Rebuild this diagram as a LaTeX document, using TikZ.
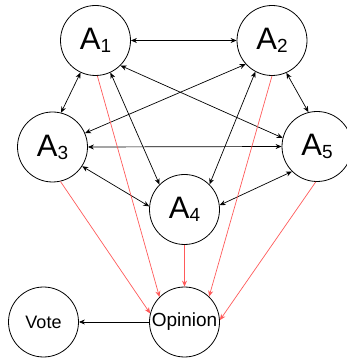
\documentclass[tikz,border=0pt]{standalone}
\usepackage{fontspec}
\setmainfont{Liberation Sans}
\usetikzlibrary{positioning,arrows.meta}
\definecolor{opred}{RGB}{255,90,90}
\newcommand{\agent}[1]{{\fontsize{31}{31}\selectfont A}\raisebox{-3pt}{\fontsize{19}{19}\selectfont #1}}

\begin{document}
\begin{tikzpicture}[x=1pt,y=1pt,on grid,
    agent/.style={circle,draw,line width=0.8pt,minimum size=70pt,inner sep=0pt},
    talk/.style={{Stealth[length=6pt,width=5pt]}-{Stealth[length=6pt,width=5pt]},line width=0.7pt},
    sway/.style={-{Stealth[length=6pt,width=5pt]},draw=opred,line width=0.7pt}]
        \useasboundingbox (0,0) rectangle (346,359);
        \node[agent] (a1) at (95.5,318.5) {\agent{1}};
        \node[agent] (a2) [right = 176.5pt of a1] {\agent{2}};
        \node[agent] (a3) [below left = 106.5pt and 43pt of a1] {\agent{3}};
        \node[agent] (a5) [below right = 106pt and 45pt of a2] {\agent{5}};
        \node[agent] (a4) [below right = 169pt and 89pt of a1] {\agent{4}};
        \node[agent] (op) [below = 112.5pt of a4] {\fontsize{19}{19}\selectfont Opinion};
        \node[agent] (vote) [left = 141pt of op] {\fontsize{18}{18}\selectfont Vote};
        \path[talk]
        (a1.east) edge (a2.west)
        (a1.-115) edge (a3.76)
        (a1.-65) edge (a4.135)
        (a1.-45) edge (a5.166)
        (a2.-138) edge (a3.23)
        (a2.-118) edge (a4.45)
        (a2.-66) edge (a5.104)
        (a3.east) edge (a5.west)
        (a3.-33) edge (a4.175)
        (a4.7) edge (a5.225)
        ;
        \draw[sway] (a1.-87) -- (op.135);
        \draw[sway] (a2.south) -- (op.46);
        \draw[sway] (a3.-77) -- (op.166);
        \draw[sway] (a4.south) -- (op.north);
        \draw[sway] (a5.-92) -- (op.3);
        \draw[-{Stealth[length=6pt,width=5pt]},line width=0.7pt] (op.west) -- (vote.east);
      \end{tikzpicture}
\end{document}
